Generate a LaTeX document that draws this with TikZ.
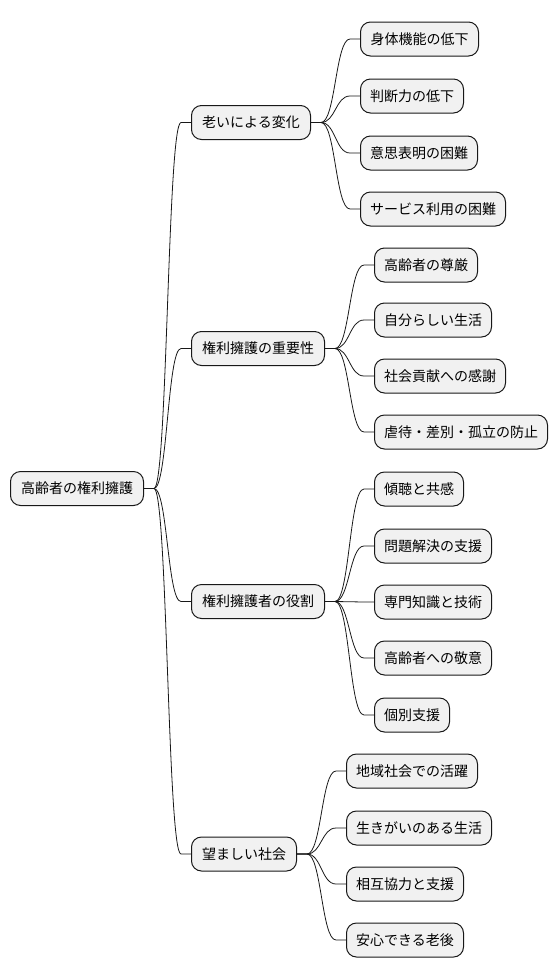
\documentclass[tikz,border=0pt]{standalone}
\usepackage{fontspec}
\usetikzlibrary{calc}
\newfontfamily\cjk{Noto Sans CJK JP}
\definecolor{boxfill}{HTML}{F1F1F1}
\definecolor{boxline}{HTML}{181818}
\tikzset{
  mm/.style={draw=boxline, fill=boxfill, line width=1pt, rounded corners=10pt,
    minimum height=34pt, inner sep=0pt, anchor=west, align=center,
    font=\cjk\fontsize{14pt}{16pt}\selectfont, minimum width=#1},
  link/.style={draw=boxline, line width=0.8pt}
}
\newcommand\mmlink[2]{\draw[link] let \p1=(#1.east), \p2=(#2.west), \n1={(\x1+\x2)/2} in
  (\p1) -- ++(10,0) .. controls (\n1,\y1) and (\n1,\y2) .. (\x2-10,\y2) -- (\p2);}
\begin{document}
\begin{tikzpicture}[x=1pt,y=-1pt]
\useasboundingbox (0,0) rectangle (558,978);
\node[mm=133pt] (root) at (10,488.5) {高齢者の権利擁護};
\node[mm=119pt] (a) at (191,122.5) {老いによる変化};
\node[mm=118pt] (a1) at (360,39) {身体機能の低下};
\node[mm=103pt] (a2) at (360,96) {判断力の低下};
\node[mm=117pt] (a3) at (360,153) {意思表明の困難};
\node[mm=145pt] (a4) at (360,209) {サービス利用の困難};
\node[mm=133pt] (b) at (191,348.5) {権利擁護の重要性};
\node[mm=103pt] (b1) at (374,265) {高齢者の尊厳};
\node[mm=117pt] (b2) at (374,320) {自分らしい生活};
\node[mm=131pt] (b3) at (374,376) {社会貢献への感謝};
\node[mm=173pt] (b4) at (374,432) {虐待・差別・孤立の防止};
\node[mm=133pt] (c) at (191,601.5) {権利擁護者の役割};
\node[mm=89pt] (c1) at (374,489) {傾聴と共感};
\node[mm=117pt] (c2) at (374,546) {問題解決の支援};
\node[mm=117pt] (c3) at (374,602) {専門知識と技術};
\node[mm=117pt] (c4) at (374,658) {高齢者への敬意};
\node[mm=75pt] (c5) at (374,715) {個別支援};
\node[mm=105pt] (d) at (191,854) {望ましい社会};
\node[mm=131pt] (d1) at (346,771) {地域社会での活躍};
\node[mm=145pt] (d2) at (346,828) {生きがいのある生活};
\node[mm=117pt] (d3) at (346,884) {相互協力と支援};
\node[mm=117pt] (d4) at (346,940) {安心できる老後};
\mmlink{root}{a}\mmlink{root}{b}\mmlink{root}{c}\mmlink{root}{d}
\mmlink{a}{a1}\mmlink{a}{a2}\mmlink{a}{a3}\mmlink{a}{a4}
\mmlink{b}{b1}\mmlink{b}{b2}\mmlink{b}{b3}\mmlink{b}{b4}
\mmlink{c}{c1}\mmlink{c}{c2}\mmlink{c}{c3}\mmlink{c}{c4}\mmlink{c}{c5}
\mmlink{d}{d1}\mmlink{d}{d2}\mmlink{d}{d3}\mmlink{d}{d4}
\end{tikzpicture}
\end{document}
